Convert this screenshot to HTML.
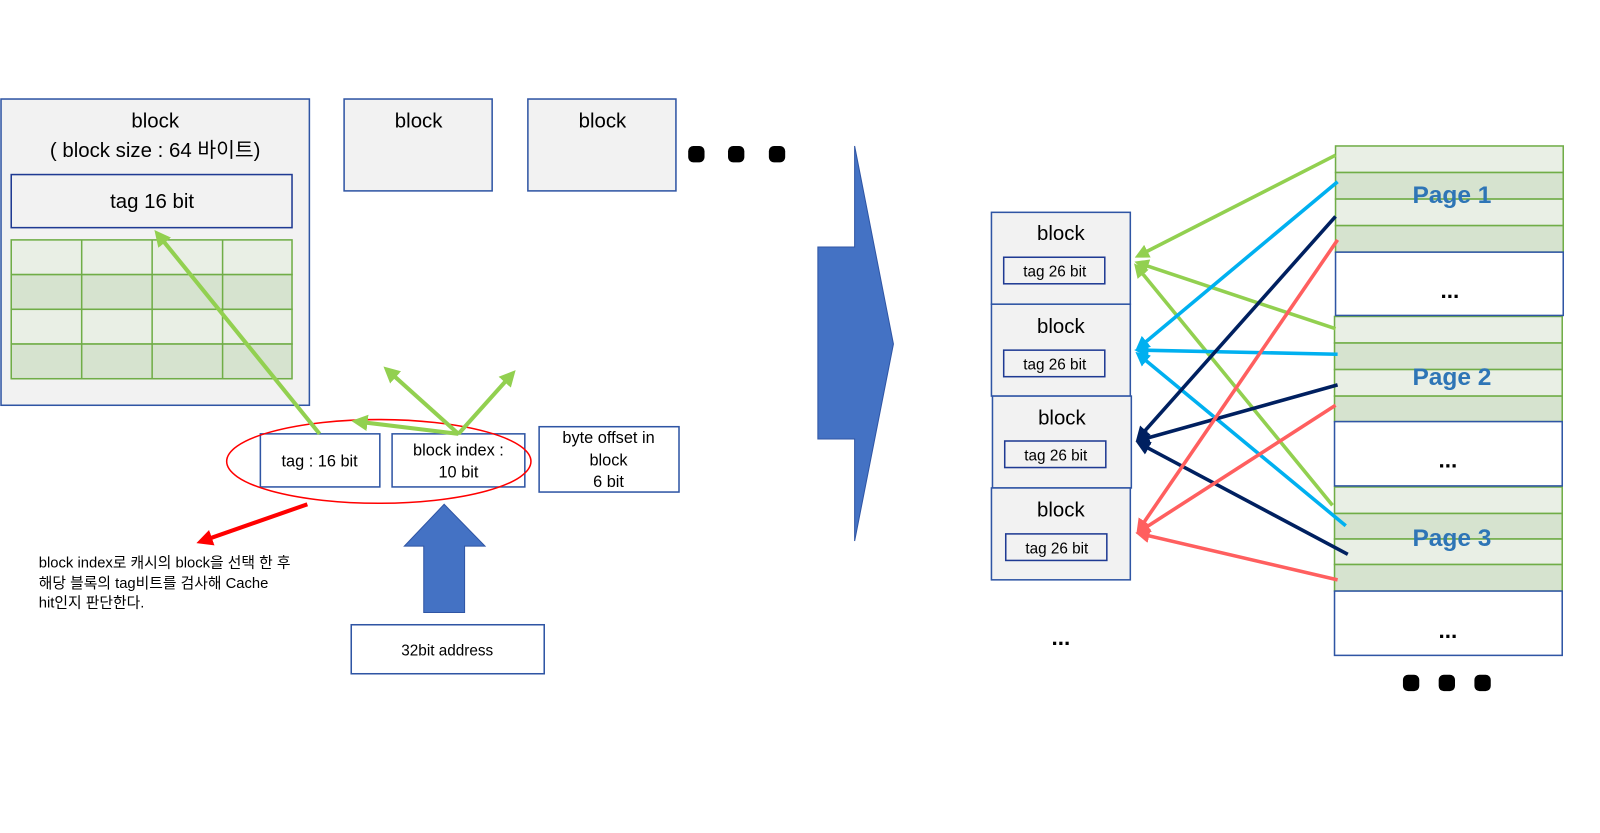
<!DOCTYPE html>
<html><head><meta charset="utf-8"><style>
html,body{margin:0;padding:0;background:#fff;}
svg{display:block;font-family:"Liberation Sans","Noto Sans CJK KR",sans-serif;}
</style></head><body>
<svg width="1600" height="833" viewBox="0 0 1567 816" preserveAspectRatio="none" xmlns="http://www.w3.org/2000/svg">
<defs>
<marker id="mg" markerWidth="4" markerHeight="4" refX="2.5" refY="2" orient="auto"><path d="M0,0 L4,2 L0,4 z" fill="#92d050"/></marker>
<marker id="mb" markerWidth="4" markerHeight="4" refX="2.5" refY="2" orient="auto"><path d="M0,0 L4,2 L0,4 z" fill="#00b0f0"/></marker>
<marker id="mn" markerWidth="4" markerHeight="4" refX="2.5" refY="2" orient="auto"><path d="M0,0 L4,2 L0,4 z" fill="#002060"/></marker>
<marker id="mr" markerWidth="4" markerHeight="4" refX="2.5" refY="2" orient="auto"><path d="M0,0 L4,2 L0,4 z" fill="#ff5f5f"/></marker>
<marker id="mR" markerWidth="4" markerHeight="4" refX="2.5" refY="2" orient="auto"><path d="M0,0 L4,2 L0,4 z" fill="#ff0000"/></marker>
</defs>
<g stroke="#2f55a4" stroke-width="1.5" fill="#f2f2f2">
<rect x="1" y="97" width="302" height="300"/>
<rect x="337" y="97" width="145" height="90"/>
<rect x="517" y="97" width="145" height="90"/>
</g>
<rect x="11" y="171" width="275" height="52" fill="#f2f2f2" stroke="#1f3a93" stroke-width="1.5"/>
<g font-size="20" fill="#000" text-anchor="middle">
<text x="152" y="125">block</text>
<text x="152" y="154">( block size : 64 바이트)</text>
<text x="149" y="204">tag 16 bit</text>
<text x="410" y="125">block</text>
<text x="590" y="125">block</text>
</g>
<g stroke="#70ad47" stroke-width="1.5">
<rect x="11" y="235" width="275" height="34" fill="#e9efe5"/>
<rect x="11" y="269" width="275" height="34" fill="#d6e3cf"/>
<rect x="11" y="303" width="275" height="34" fill="#e9efe5"/>
<rect x="11" y="337" width="275" height="34" fill="#d6e3cf"/>
<line x1="80" y1="235" x2="80" y2="371"/><line x1="149" y1="235" x2="149" y2="371"/><line x1="218" y1="235" x2="218" y2="371"/>
</g>
<g fill="#000">
<rect x="674" y="143" width="16" height="16" rx="5"/>
<rect x="713" y="143" width="16" height="16" rx="5"/>
<rect x="753" y="143" width="16" height="16" rx="5"/>
</g>
<g stroke="#2f55a4" stroke-width="1.5" fill="#fff">
<rect x="255" y="425" width="117" height="52"/>
<rect x="384" y="425" width="130" height="52"/>
<rect x="528" y="418" width="137" height="64"/>
<rect x="344" y="612" width="189" height="48"/>
</g>
<g font-size="16" text-anchor="middle" fill="#000">
<text x="313" y="457">tag  : 16 bit</text>
<text x="449" y="446">block index :</text>
<text x="449" y="468">10 bit</text>
<text x="596" y="434">byte offset in</text>
<text x="596" y="456">block</text>
<text x="596" y="477">6 bit</text>
<text x="438" y="642" font-size="15">32bit address</text>
</g>
<ellipse cx="371" cy="452" rx="149" ry="41" fill="none" stroke="#ff0000" stroke-width="1.5"/>
<g stroke="#92d050" stroke-width="4" marker-end="url(#mg)" fill="none">
<line x1="313" y1="425" x2="155" y2="230"/>
<line x1="449" y1="425" x2="350" y2="413"/>
<line x1="449" y1="425" x2="380" y2="363"/>
<line x1="449" y1="425" x2="501" y2="367"/>
</g>
<line x1="301" y1="494" x2="198" y2="530" stroke="#ff0000" stroke-width="4" marker-end="url(#mR)"/>
<g font-size="14.5" fill="#000">
<text x="38" y="556">block index로 캐시의 block을 선택 한 후</text>
<text x="38" y="576">해당 블록의 tag비트를 검사해 Cache</text>
<text x="38" y="595">hit인지 판단한다.</text>
</g>
<polygon points="415,600 455,600 455,535 475,535 435,494 396,535 415,535" fill="#4472c4" stroke="#2f55a4"/>
<polygon points="801,242 837,242 837,143 875,337 837,530 837,430 801,430" fill="#4472c4" stroke="#2f55a4"/>
<g stroke="#2f55a4" stroke-width="1.5" fill="#f2f2f2">
<rect x="971" y="208" width="136" height="90"/>
<rect x="971" y="298" width="136" height="90"/>
<rect x="972" y="388" width="136" height="90"/>
<rect x="971" y="478" width="136" height="90"/>
</g>
<g stroke="#1f3a93" stroke-width="1.5" fill="#f2f2f2">
<rect x="983" y="252" width="99" height="26"/>
<rect x="983" y="343" width="99" height="26"/>
<rect x="984" y="432" width="99" height="26"/>
<rect x="985" y="523" width="99" height="26"/>
</g>
<g font-size="20" text-anchor="middle" fill="#000">
<text x="1039" y="235">block</text><text x="1039" y="326">block</text><text x="1040" y="416">block</text><text x="1039" y="506">block</text>
</g>
<g font-size="15" text-anchor="middle" fill="#000">
<text x="1033" y="271">tag 26 bit</text><text x="1033" y="362">tag 26 bit</text><text x="1034" y="451">tag 26 bit</text><text x="1035" y="542">tag 26 bit</text>
</g>
<text x="1039" y="632" font-size="22" text-anchor="middle" font-weight="bold">...</text>
<g stroke="#70ad47" stroke-width="1.5">
<rect x="1308" y="143" width="223" height="26" fill="#e9efe5"/>
<rect x="1308" y="169" width="223" height="26" fill="#d6e3cf"/>
<rect x="1308" y="195" width="223" height="26" fill="#e9efe5"/>
<rect x="1308" y="221" width="223" height="26" fill="#d6e3cf"/>
<rect x="1307" y="310" width="223" height="26" fill="#e9efe5"/>
<rect x="1307" y="336" width="223" height="26" fill="#d6e3cf"/>
<rect x="1307" y="362" width="223" height="26" fill="#e9efe5"/>
<rect x="1307" y="388" width="223" height="25" fill="#d6e3cf"/>
<rect x="1307" y="477" width="223" height="26" fill="#e9efe5"/>
<rect x="1307" y="503" width="223" height="25" fill="#d6e3cf"/>
<rect x="1307" y="528" width="223" height="25" fill="#e9efe5"/>
<rect x="1307" y="553" width="223" height="26" fill="#d6e3cf"/>
</g>
<g stroke="#2f55a4" stroke-width="1.5" fill="#fff">
<rect x="1308" y="247" width="223" height="62"/>
<rect x="1307" y="413" width="223" height="63"/>
<rect x="1307" y="579" width="223" height="63"/>
</g>
<g font-size="24" font-weight="bold" fill="#2e75b6" text-anchor="middle">
<text x="1422" y="199">Page 1</text><text x="1422" y="377">Page 2</text><text x="1422" y="535">Page 3</text>
</g>
<g font-size="22" font-weight="bold" text-anchor="middle"><text x="1420" y="292">...</text><text x="1418" y="458">...</text><text x="1418" y="625">...</text></g>
<g fill="#000">
<rect x="1374" y="661" width="16" height="16" rx="5"/><rect x="1409" y="661" width="16" height="16" rx="5"/><rect x="1444" y="661" width="16" height="16" rx="5"/>
</g>
<g stroke-width="3.5" fill="none">
<g stroke="#92d050" marker-end="url(#mg)"><line x1="1308" y1="152" x2="1116" y2="250"/><line x1="1308" y1="322" x2="1116" y2="258"/><line x1="1305" y1="495" x2="1114" y2="262"/></g>
<g stroke="#00b0f0" marker-end="url(#mb)"><line x1="1310" y1="178" x2="1116" y2="340"/><line x1="1310" y1="347" x2="1116" y2="343"/><line x1="1318" y1="515" x2="1116" y2="348"/></g>
<g stroke="#002060" marker-end="url(#mn)"><line x1="1308" y1="212" x2="1116" y2="428"/><line x1="1310" y1="377" x2="1117" y2="431"/><line x1="1320" y1="543" x2="1117" y2="435"/></g>
<g stroke="#ff5f5f" marker-end="url(#mr)"><line x1="1310" y1="235" x2="1116" y2="518"/><line x1="1308" y1="397" x2="1117" y2="520"/><line x1="1310" y1="568" x2="1117" y2="523"/></g>
</g>
</svg>
</body></html>
